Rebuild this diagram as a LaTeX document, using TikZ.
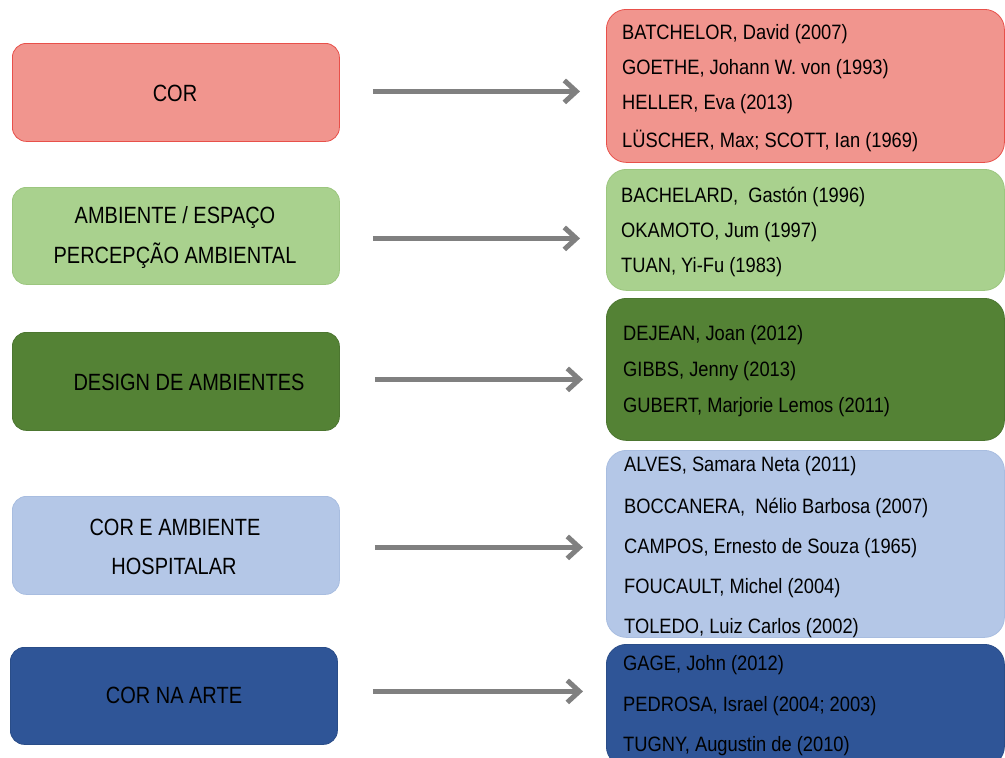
\documentclass[tikz,border=0pt]{standalone}
\usepackage{fontspec}
\setmainfont{Liberation Sans}
\newfontfamily\lfont[FakeStretch=0.85]{Liberation Sans}
\newfontfamily\rfont[FakeStretch=0.88]{Liberation Sans}
\usetikzlibrary{arrows.meta}
\definecolor{corfill}{HTML}{F1958E}
\definecolor{corline}{HTML}{E8504A}
\definecolor{lgfill}{HTML}{A9D18E}
\definecolor{lgline}{HTML}{9CC67F}
\definecolor{dgfill}{HTML}{548235}
\definecolor{dgline}{HTML}{4C7630}
\definecolor{lbfill}{HTML}{B4C7E7}
\definecolor{lbline}{HTML}{A8BDE0}
\definecolor{dbfill}{HTML}{2F5597}
\definecolor{dbline}{HTML}{2A4D88}
\definecolor{arrowgray}{HTML}{808080}
\tikzset{
  catbox/.style={rounded corners=14pt, minimum width=327pt, inner sep=0pt, anchor=north west, line width=0.8pt},
  refbox/.style={rounded corners=20pt, minimum width=398pt, inner sep=0pt, anchor=north west, line width=0.8pt},
  cattext/.style={inner sep=0pt, font=\lfont\fontsize{23.5}{27}\selectfont, text=black},
  reftext/.style={anchor=west, inner sep=0pt, font=\rfont\fontsize{20.8}{24}\selectfont, text=black},
  link/.style={draw=arrowgray, line width=5pt, -{Straight Barb[length=12pt, width=22pt]}}
}
\begin{document}
\begin{tikzpicture}[x=1pt, y=-1pt]
\useasboundingbox (0,0) rectangle (1005,758);
\clip (0,0) rectangle (1005,758);
% left category boxes
\node[catbox, fill=corfill, draw=corline, minimum height=98pt] (c1) at (12,43) {};
\node[catbox, fill=lgfill, draw=lgline, minimum height=97pt] (c2) at (12,187) {};
\node[catbox, fill=dgfill, draw=dgline, minimum height=98pt] (c3) at (12,332) {};
\node[catbox, fill=lbfill, draw=lbline, minimum height=98pt] (c4) at (12,496) {};
\node[catbox, fill=dbfill, draw=dbline, minimum height=97pt] (c5) at (10,647) {};
% left texts
\node[cattext] (t1) at (175,93) {COR};
\node[cattext] (t2a) at (175,217) {AMBIENTE / ESPAÇO};
\node[cattext] (t2b) at (175,256) {PERCEPÇÃO AMBIENTAL};
\node[cattext] (t3) at (189,382) {DESIGN DE AMBIENTES};
\node[cattext] (t4a) at (175,527) {COR E AMBIENTE};
\node[cattext] (t4b) at (174,566) {HOSPITALAR};
\node[cattext] (t5) at (174,695) {COR NA ARTE};
% right reference boxes
\node[refbox, fill=corfill, draw=corline, minimum height=153pt] (r1) at (606,9) {};
\node[refbox, fill=lgfill, draw=lgline, minimum height=121pt] (r2) at (606,169) {};
\node[refbox, fill=dgfill, draw=dgline, minimum height=142pt] (r3) at (606,298) {};
\node[refbox, fill=lbfill, draw=lbline, minimum height=187pt] (r4) at (606,450) {};
\node[refbox, fill=dbfill, draw=dbline, minimum height=122pt] (r5) at (606,644) {};
% right texts
\node[reftext] (a1) at (622,34.5) {BATCHELOR, David (2007)};
\node[reftext] (a2) at (622,69.5) {GOETHE, Johann W. von (1993)};
\node[reftext] (a3) at (622,104.5) {HELLER, Eva (2013)};
\node[reftext] (a4) at (622,140.5) {LÜSCHER, Max; SCOTT, Ian (1969)};
\node[reftext] (b1) at (621,196.5) {BACHELARD,\ \ Gastón (1996)};
\node[reftext] (b2) at (621,232.5) {OKAMOTO, Jum (1997)};
\node[reftext] (b3) at (621,267.5) {TUAN, Yi-Fu (1983)};
\node[reftext] (d1) at (623,335.5) {DEJEAN, Joan (2012)};
\node[reftext] (d2) at (623,371.5) {GIBBS, Jenny (2013)};
\node[reftext] (d3) at (623,407.5) {GUBERT, Marjorie Lemos (2011)};
\node[reftext] (e1) at (624,466.5) {ALVES, Samara Neta (2011)};
\node[reftext] (e2) at (624,507.5) {BOCCANERA,\ \ Nélio Barbosa (2007)};
\node[reftext] (e3) at (624,548.5) {CAMPOS, Ernesto de Souza (1965)};
\node[reftext] (e4) at (624,588.5) {FOUCAULT, Michel (2004)};
\node[reftext] (e5) at (624,628.5) {TOLEDO, Luiz Carlos (2002)};
\node[reftext] (f1) at (623,665.5) {GAGE, John (2012)};
\node[reftext] (f2) at (623,706.5) {PEDROSA, Israel (2004; 2003)};
\node[reftext] (f3) at (623,746.5) {TUGNY, Augustin de (2010)};
% arrows
\draw[link, shorten <=33pt, shorten >=26pt] ([yshift=1pt]c1.east) -- ([yshift=1pt]c1.east -| r1.west);
\draw[link, shorten <=33pt, shorten >=26pt] ([yshift=-2.5pt]c2.east) -- ([yshift=-2.5pt]c2.east -| r2.west);
\draw[link, shorten <=35pt, shorten >=23pt] ([yshift=2pt]c3.east) -- ([yshift=2pt]c3.east -| r3.west);
\draw[link, shorten <=35pt, shorten >=23pt] ([yshift=-2pt]c4.east) -- ([yshift=-2pt]c4.east -| r4.west);
\draw[link, shorten <=35pt, shorten >=23pt] ([yshift=4.5pt]c5.east) -- ([yshift=4.5pt]c5.east -| r5.west);
\end{tikzpicture}
\end{document}
